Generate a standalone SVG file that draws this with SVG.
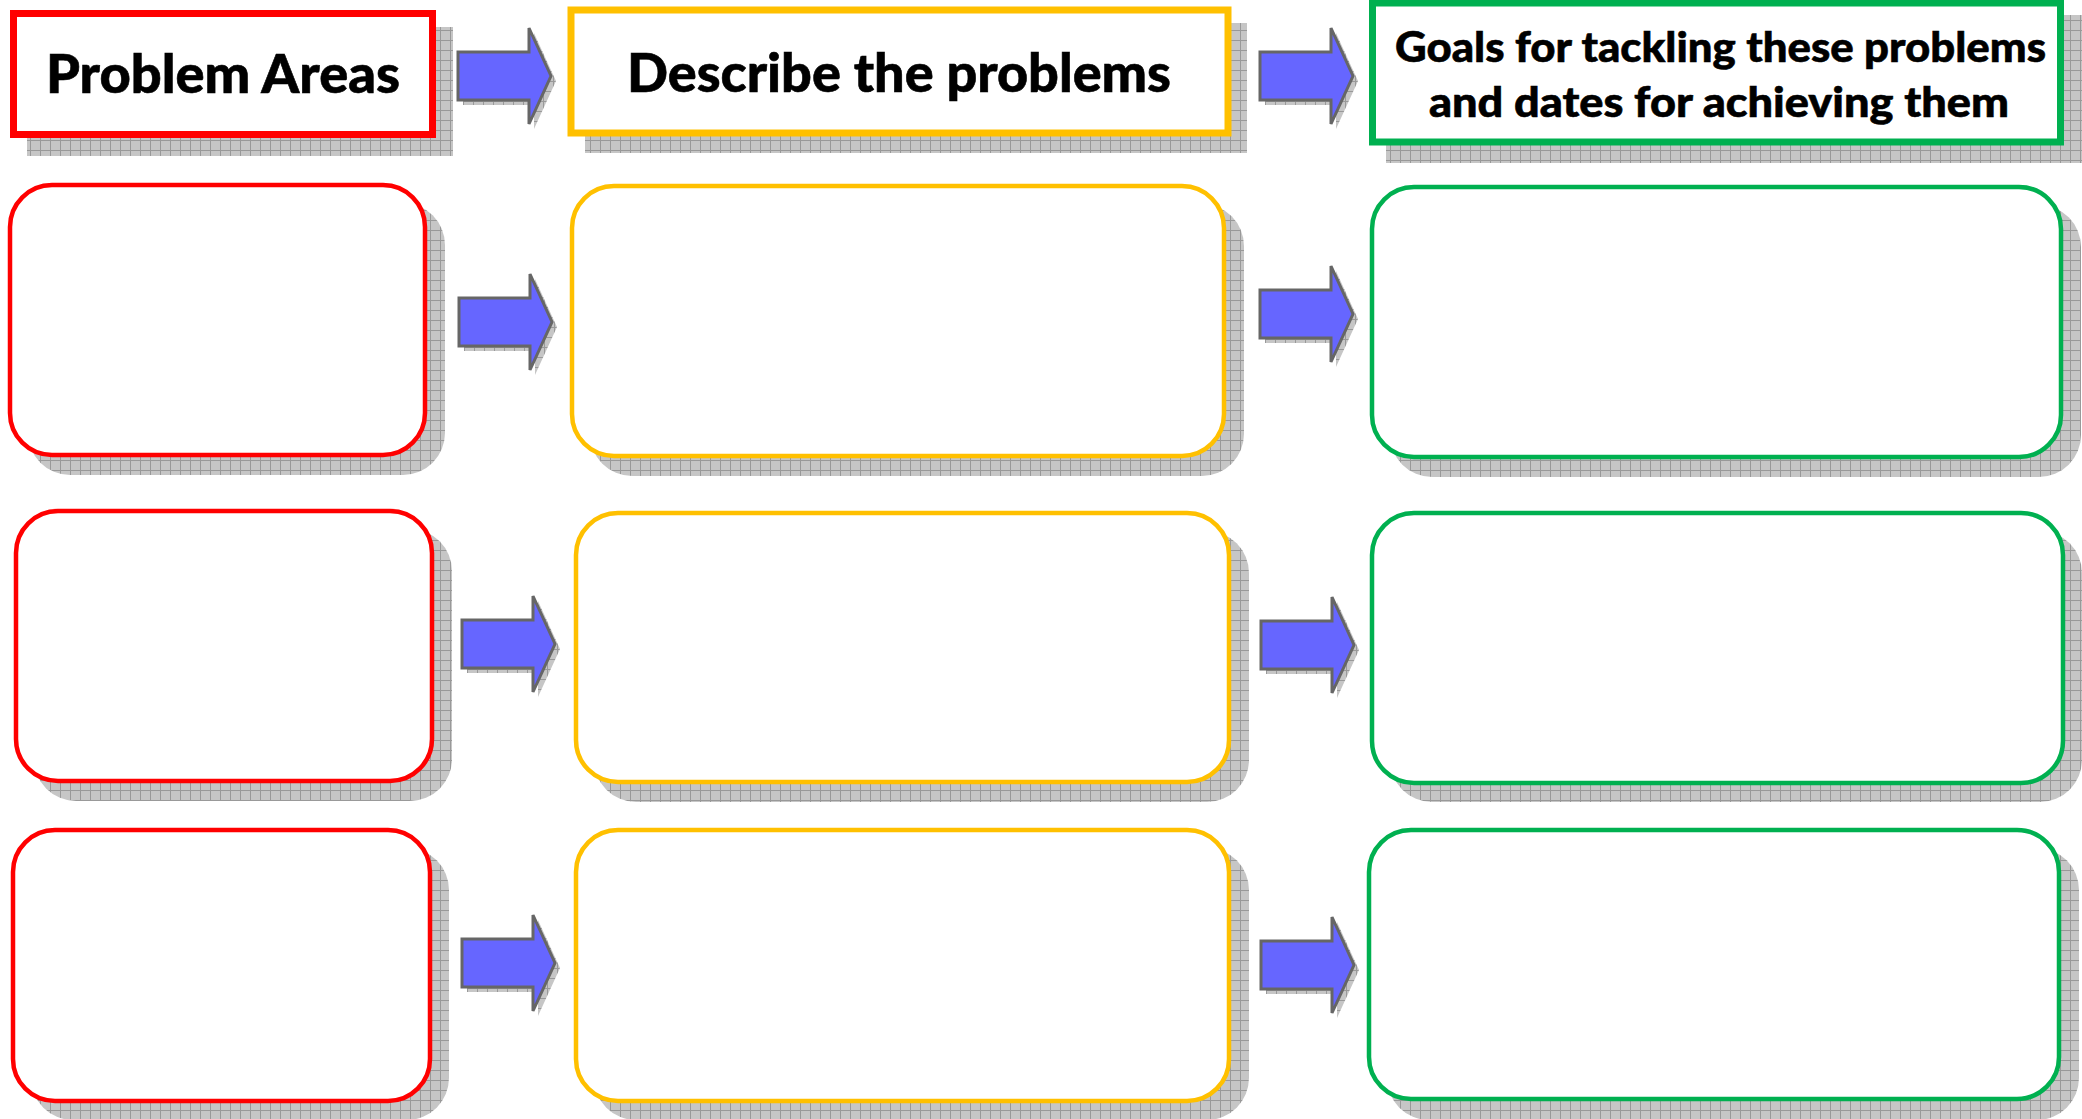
<svg xmlns="http://www.w3.org/2000/svg" width="2082" height="1119" viewBox="0 0 2082 1119">
<defs>
<pattern id="grid" width="10" height="10" patternUnits="userSpaceOnUse">
<rect width="10" height="10" fill="#c6c6c6"/>
<path d="M0,0.5H10M0.5,0V10" stroke="#999999" stroke-width="1" fill="none"/>
</pattern>
<path id="arrow" d="M0,-24H71V-48L93,0L71,48V24H0Z"/>
<style>
.sh{fill:url(#grid);stroke:none}
.arr{fill:#6666ff;stroke:#666666;stroke-width:3;stroke-linejoin:miter}
.red{fill:#ffffff;stroke:#ff0000}
.yel{fill:#ffffff;stroke:#ffc000}
.grn{fill:#ffffff;stroke:#00b050}
.hd{stroke-width:7}
.bx{stroke-width:4.5}
.t{font-family:Lato,"Open Sans","Liberation Sans",sans-serif;font-weight:900;fill:#000000;stroke:#000000;stroke-width:0.6}
</style>
</defs>
<rect width="2082" height="1119" fill="#ffffff"/>

<g id="header-problem-areas">
<rect class="sh" x="27" y="27" width="426" height="129"/>
<rect class="red hd" x="13.5" y="13.5" width="419" height="121"/>
<text class="t" x="46" y="93" font-size="53" textLength="354" lengthAdjust="spacingAndGlyphs">Problem Areas</text>
</g>
<g id="header-describe">
<rect class="sh" x="585" y="23" width="662" height="130"/>
<rect class="yel hd" x="571" y="10" width="657" height="123"/>
<text class="t" x="627" y="92" font-size="54" textLength="544" lengthAdjust="spacingAndGlyphs">Describe the problems</text>
</g>
<g id="header-goals">
<rect class="sh" x="1386" y="15" width="696" height="148"/>
<rect class="grn hd" x="1372.5" y="3" width="688" height="139"/>
<text class="t" x="1395" y="62" font-size="42" textLength="651" lengthAdjust="spacingAndGlyphs">Goals for tackling these problems</text>
<text class="t" x="1429" y="117" font-size="42" textLength="580" lengthAdjust="spacingAndGlyphs">and dates for achieving them</text>
</g>

<g id="row1-problem"><rect class="sh" x="28" y="203" width="417" height="272" rx="42"/><rect class="red bx" x="10" y="185" width="415" height="270" rx="42"/></g>
<g id="row1-describe"><rect class="sh" x="590" y="204" width="654" height="272" rx="42"/><rect class="yel bx" x="572" y="186" width="652" height="270" rx="42"/></g>
<g id="row1-goals"><rect class="sh" x="1390" y="205" width="691" height="272" rx="42"/><rect class="grn bx" x="1372" y="187" width="689" height="270" rx="42"/></g>

<g id="row2-problem"><rect class="sh" x="34" y="529" width="418" height="272" rx="42"/><rect class="red bx" x="16" y="511" width="416" height="270" rx="42"/></g>
<g id="row2-describe"><rect class="sh" x="594" y="531" width="655" height="271" rx="42"/><rect class="yel bx" x="576" y="513" width="653" height="269" rx="42"/></g>
<g id="row2-goals"><rect class="sh" x="1390" y="531" width="692" height="271" rx="42"/><rect class="grn bx" x="1372" y="513" width="691" height="270" rx="42"/></g>

<g id="row3-problem"><rect class="sh" x="31" y="848" width="418" height="272" rx="42"/><rect class="red bx" x="13" y="830" width="417" height="271" rx="42"/></g>
<g id="row3-describe"><rect class="sh" x="594" y="848" width="655" height="272" rx="42"/><rect class="yel bx" x="576" y="830" width="653" height="271" rx="42"/></g>
<g id="row3-goals"><rect class="sh" x="1387" y="848" width="692" height="272" rx="42"/><rect class="grn bx" x="1369" y="830" width="690" height="269" rx="42"/></g>

<g id="connectors">
<use href="#arrow" class="sh" x="463" y="81"/><use href="#arrow" class="arr" x="458" y="76"/>
<use href="#arrow" class="sh" x="464" y="327"/><use href="#arrow" class="arr" x="459" y="322"/>
<use href="#arrow" class="sh" x="467" y="649"/><use href="#arrow" class="arr" x="462" y="644"/>
<use href="#arrow" class="sh" x="467" y="968"/><use href="#arrow" class="arr" x="462" y="963"/>
<use href="#arrow" class="sh" x="1265" y="81"/><use href="#arrow" class="arr" x="1260" y="76"/>
<use href="#arrow" class="sh" x="1265" y="319"/><use href="#arrow" class="arr" x="1260" y="314"/>
<use href="#arrow" class="sh" x="1266" y="650"/><use href="#arrow" class="arr" x="1261" y="645"/>
<use href="#arrow" class="sh" x="1266" y="970"/><use href="#arrow" class="arr" x="1261" y="965"/>
</g>
</svg>
